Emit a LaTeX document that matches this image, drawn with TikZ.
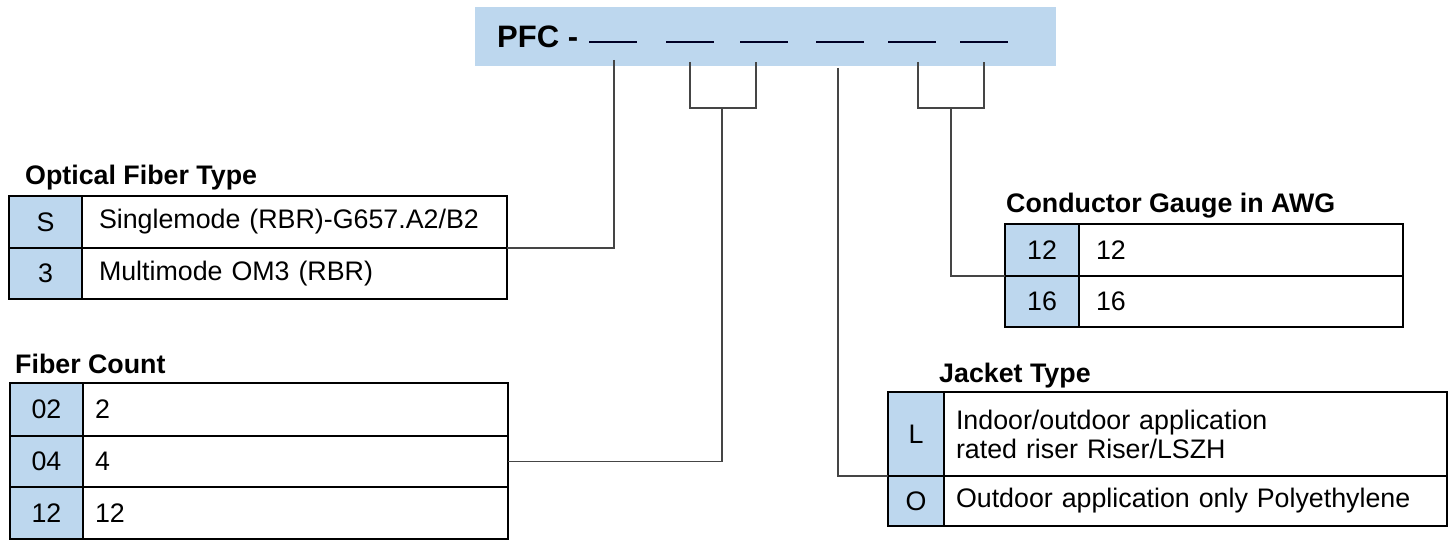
\documentclass[tikz,border=0pt]{standalone}
\usepackage{fontspec}
\setmainfont{Liberation Sans}
\definecolor{cellblue}{HTML}{BDD7EE}
\definecolor{connc}{HTML}{454545}
\begin{document}
\begin{tikzpicture}[x=1pt,y=-1pt,
  cell/.style={draw=black, line width=1.5pt, inner sep=0pt, outer sep=0pt, anchor=north west, font=\fontsize{26.8}{29}\selectfont},
  codecell/.style={cell, fill=cellblue, align=center},
  desc/.style={cell, fill=white, inner xsep=17pt, align=left},
  ttl/.style={anchor=base west, inner sep=0pt, font=\bfseries\fontsize{26.8}{29}\selectfont},
  conn/.style={draw=connc, line width=1.4pt},
  uline/.style={draw=black!85!blue, line width=1.6pt}]
\useasboundingbox (0,0) rectangle (1451,540);

% banner
\node[fill=cellblue, minimum width=581pt, minimum height=59pt, anchor=north west, inner sep=0pt] (banner) at (475,7) {};
\node[anchor=base west, inner sep=0pt, font=\bfseries\fontsize{31}{34}\selectfont] (pfc) at (497,48) {PFC -};
\foreach \x in {589,666,740,816,888,960} \draw[uline] (\x,42) -- ++(48,0);

% connector start points
\coordinate (s1) at (614,60);
\coordinate (s2) at (690,62);
\coordinate (s3) at (756,62);
\coordinate (bA) at (722,108);
\coordinate (s4) at (838,68);
\coordinate (s5) at (918,62);
\coordinate (s6) at (984,62);
\coordinate (bB) at (951,108);

% Optical Fiber Type
\node[ttl] (oft) at (25,185) {Optical Fiber Type};
\node[codecell, minimum width=73pt, minimum height=52pt] (os) at (9,196) {S};
\node[desc, text width=391pt, minimum height=52pt] (osd) at (82,196) {Singlemode (RBR)-G657.A2/B2};
\node[codecell, minimum width=73pt, minimum height=51pt] (o3) at (9,248) {3};
\node[desc, text width=391pt, minimum height=51pt] (o3d) at (82,248) {Multimode OM3 (RBR)};

% Fiber Count
\node[ttl] (fct) at (15,373) {Fiber Count};
\node[codecell, minimum width=73pt, minimum height=53pt] (f02) at (10,383) {02};
\node[desc, inner xsep=12pt, text width=401pt, minimum height=53pt] (f02d) at (83,383) {2};
\node[codecell, minimum width=73pt, minimum height=51pt] (f04) at (10,436) {04};
\node[desc, inner xsep=12pt, text width=401pt, minimum height=51pt] (f04d) at (83,436) {4};
\node[codecell, minimum width=73pt, minimum height=52pt] (f12) at (10,487) {12};
\node[desc, inner xsep=12pt, text width=401pt, minimum height=52pt] (f12d) at (83,487) {12};

% Conductor Gauge
\node[ttl] (cgt) at (1006,213) {Conductor Gauge in AWG};
\node[codecell, minimum width=74pt, minimum height=52pt] (c12) at (1005,224) {12};
\node[desc, text width=290pt, minimum height=52pt] (c12d) at (1079,224) {12};
\node[codecell, minimum width=74pt, minimum height=51pt] (c16) at (1005,276) {16};
\node[desc, text width=290pt, minimum height=51pt] (c16d) at (1079,276) {16};

% Jacket Type
\node[ttl] (jtt) at (939,382) {Jacket Type};
\node[codecell, minimum width=56pt, minimum height=84pt] (jl) at (888,392) {L};
\node[desc, inner xsep=12pt, text width=479pt, minimum height=84pt] (jld) at (944,392) {Indoor/outdoor application\\rated riser Riser/LSZH};
\node[codecell, minimum width=56pt, minimum height=50pt] (jo) at (888,476) {O};
\node[desc, inner xsep=12pt, text width=479pt, minimum height=50pt] (jod) at (944,476) {Outdoor application only Polyethylene};

% connectors
\draw[conn] (s1) |- (osd.south east);
\draw[conn] (s2) |- (bA) -| (s3);
\draw[conn] (bA) |- (f04d.east);
\draw[conn] (s4) |- (jl.south west);
\draw[conn] (s5) |- (bB) -| (s6);
\draw[conn] (bB) |- (c12.south west);
\end{tikzpicture}
\end{document}
